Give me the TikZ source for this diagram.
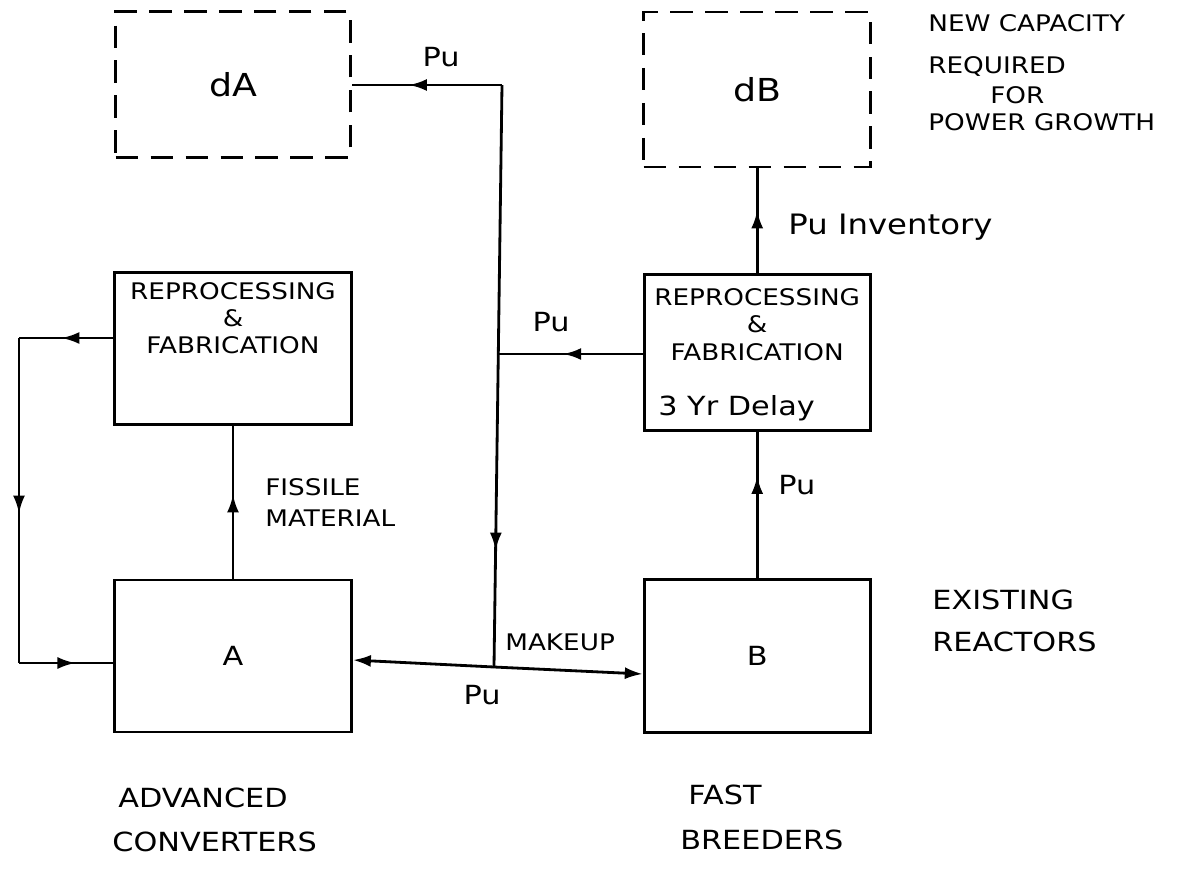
\documentclass[tikz,border=0pt]{standalone}
\usepackage{fontspec}
\newfontfamily\hand[FakeStretch=1.15]{DejaVu Sans}
\usetikzlibrary{arrows.meta,positioning,calc,decorations.markings}

\begin{document}
\begin{tikzpicture}[x=0.02cm,y=-0.02cm,>={Latex[length=3.6mm,width=2.4mm]},
    block/.style={rectangle,draw,line width=1.6pt,minimum width=4.74cm,
                  minimum height=3.04cm,font=\hand\fontsize{15}{18}\selectfont},
    newcap/.style={block,dash pattern=on 0.45cm off 0.25cm,
                  font=\hand\fontsize{18}{21}\selectfont},
    boxtext/.style={align=center,inner sep=0pt,font=\hand\fontsize{13}{15.5}\selectfont},
    lbl/.style={inner sep=0pt,font=\hand\fontsize{15}{18}\selectfont},
    small/.style={lbl,font=\hand\fontsize{13}{15.5}\selectfont},
    line/.style={draw,line width=1.6pt},
    midarrow/.style={postaction={decorate},decoration={markings,
                  mark=at position #1 with {\arrow{>}}}}]
    \useasboundingbox (0,0) rectangle (1191,873);
    % reactors and reprocessing
    \node[block](A) at (233,656){A};
    \node[block,minimum width=4.52cm,minimum height=3.06cm,right=5.8cm of A](B){B};
    \node[block,above=3.06cm of A](repL){};
    \node[block,minimum width=4.52cm,minimum height=3.12cm,above=2.92cm of B](repR){};
    \node[newcap,minimum width=4.7cm,minimum height=2.92cm,above=2.24cm of repL](dA){dA};
    \node[newcap,minimum width=4.54cm,minimum height=3.1cm,above=2.1cm of repR](dB){dB};
    \node[boxtext,below=0.22cm of repL.north](repLtxt){REPROCESSING\\\&\\FABRICATION};
    \node[boxtext,below=0.3cm of repR.north](repRtxt){REPROCESSING\\\&\\FABRICATION};
    \node[lbl,anchor=west](delay) at (658,408){3 Yr Delay};
    % junctions
    \coordinate (lt) at (19,338);
    \coordinate (lb) at (19,663);
    \coordinate (tp) at (502,85);
    \coordinate (mk) at (494,667);
    \coordinate (jn) at (498,354);
    % connectors
    \draw[line,midarrow=0.55](lt -| repL.west)--(lt);
    \draw[line,midarrow=0.54](lt)--(lb);
    \draw[line,midarrow=0.6](lb)--(lb -| A.west);
    \draw[line,midarrow=0.55](A.north)--(repL.south);
    \draw[line,midarrow=0.62](tp)--(tp -| dA.east);
    \draw[line,midarrow=0.8](tp)--(mk);
    \draw[line,midarrow=0.55](jn -| repR.west)--(jn);
    \draw[line,->](mk)--($(A.east)+(0,4)$);
    \draw[line,->](mk)--($(B.west)+(0,18)$);
    \draw[line,midarrow=0.7](B.north)--(B.north |- repR.south);
    \draw[line,midarrow=0.6](repR.north)--(dB.south);
    % labels
    \node[lbl](puTop) at (441,57){Pu};
    \node[lbl](puMid) at (551,322){Pu};
    \node[lbl](puBot) at (482,695){Pu};
    \node[lbl,anchor=west](puB) at (778,485){Pu};
    \node[lbl,anchor=west,font=\hand\fontsize{16}{19}\selectfont](puInv) at (788,227){Pu Inventory};
    \node[small,anchor=west](makeup) at (505,642){MAKEUP};
    \node[small,anchor=west](fiss) at (265,487){FISSILE};
    \node[small,anchor=west](mat) at (265,518){MATERIAL};
    \node[small,anchor=west](capA) at (928,23){NEW CAPACITY};
    \node[small,anchor=west](capB) at (928,66){REQUIRED};
    \node[small,anchor=west](capC) at (990,95){FOR};
    \node[small,anchor=west](capD) at (928,122){POWER GROWTH};
    \node[lbl,anchor=west](exA) at (932,600){EXISTING};
    \node[lbl,anchor=west](exB) at (932,642){REACTORS};
    \node[lbl,anchor=west](advA) at (118,798){ADVANCED};
    \node[lbl,anchor=west](advB) at (112,842){CONVERTERS};
    \node[lbl,anchor=west](fastA) at (688,795){FAST};
    \node[lbl,anchor=west](fastB) at (680,840){BREEDERS};
\end{tikzpicture}
\end{document}
